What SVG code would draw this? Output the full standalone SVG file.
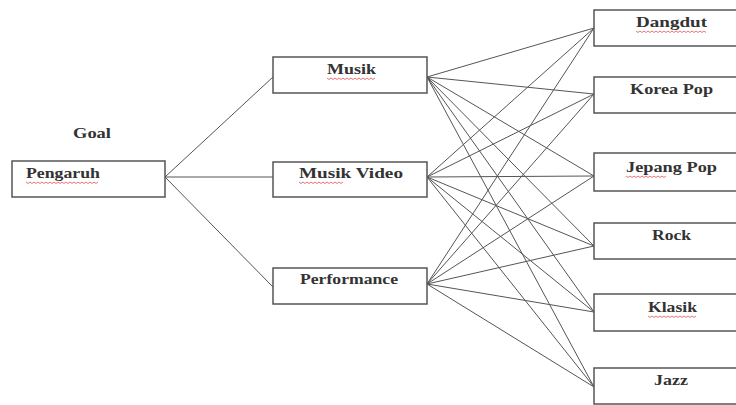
<svg xmlns="http://www.w3.org/2000/svg" width="736" height="405" viewBox="0 0 736 405">
<style>
.box{fill:#fff;stroke:#555;stroke-width:1.5}
.t{font-family:"Liberation Serif","Times New Roman",serif;font-weight:bold;font-size:14px;fill:#333}
.c{fill:none;stroke:#555;stroke-width:1}
.sq{fill:none;stroke:#e05050;stroke-width:0.8}
</style>
<rect width="736" height="405" fill="#fff"/>
<g id="connectors">
<line class="c" x1="165" y1="177" x2="273" y2="77"/>
<line class="c" x1="165" y1="177" x2="273" y2="177"/>
<line class="c" x1="165" y1="177" x2="273" y2="287"/>
<g id="from-musik">
<line class="c" x1="427" y1="77" x2="594" y2="28"/>
<line class="c" x1="427" y1="77" x2="594" y2="94"/>
<line class="c" x1="427" y1="77" x2="594" y2="176"/>
<line class="c" x1="427" y1="77" x2="594" y2="246"/>
<line class="c" x1="427" y1="77" x2="594" y2="312"/>
<line class="c" x1="427" y1="77" x2="594" y2="387"/>
</g>
<g id="from-video">
<line class="c" x1="427" y1="177" x2="594" y2="28"/>
<line class="c" x1="427" y1="177" x2="594" y2="94"/>
<line class="c" x1="427" y1="177" x2="594" y2="176"/>
<line class="c" x1="427" y1="177" x2="594" y2="246"/>
<line class="c" x1="427" y1="177" x2="594" y2="312"/>
<line class="c" x1="427" y1="177" x2="594" y2="387"/>
</g>
<g id="from-performance">
<line class="c" x1="427" y1="284" x2="594" y2="28"/>
<line class="c" x1="427" y1="284" x2="594" y2="94"/>
<line class="c" x1="427" y1="284" x2="594" y2="176"/>
<line class="c" x1="427" y1="284" x2="594" y2="246"/>
<line class="c" x1="427" y1="284" x2="594" y2="312"/>
<line class="c" x1="427" y1="284" x2="594" y2="387"/>
</g>
</g>
<g id="goal-label"><text class="t" x="73" y="138" textLength="38" lengthAdjust="spacingAndGlyphs">Goal</text></g>
<g id="pengaruh">
<rect class="box" x="12" y="161" width="153" height="36"/>
<text class="t" x="26" y="178" textLength="74" lengthAdjust="spacingAndGlyphs">Pengaruh</text>
<path class="sq" d="M26 182 l2 1.5 l2 -1.5 l2 1.5 l2 -1.5 l2 1.5 l2 -1.5 l2 1.5 l2 -1.5 l2 1.5 l2 -1.5 l2 1.5 l2 -1.5 l2 1.5 l2 -1.5 l2 1.5 l2 -1.5 l2 1.5 l2 -1.5 l2 1.5 l2 -1.5 l2 1.5 l2 -1.5 l2 1.5 l2 -1.5 l2 1.5 l2 -1.5 l2 1.5 l2 -1.5 l2 1.5 l2 -1.5 l2 1.5 l2 -1.5 l2 1.5 l2 -1.5 l2 1.5 l2 -1.5"/>
</g>
<g id="musik">
<rect class="box" x="273" y="57" width="154" height="36"/>
<text class="t" x="327" y="74" textLength="49" lengthAdjust="spacingAndGlyphs">Musik</text>
<path class="sq" d="M327 78 l2 1.5 l2 -1.5 l2 1.5 l2 -1.5 l2 1.5 l2 -1.5 l2 1.5 l2 -1.5 l2 1.5 l2 -1.5 l2 1.5 l2 -1.5 l2 1.5 l2 -1.5 l2 1.5 l2 -1.5 l2 1.5 l2 -1.5 l2 1.5 l2 -1.5 l2 1.5 l2 -1.5 l2 1.5 l2 -1.5"/>
</g>
<g id="musik-video">
<rect class="box" x="273" y="162" width="154" height="35"/>
<text class="t" x="299" y="178" textLength="104" lengthAdjust="spacingAndGlyphs">Musik Video</text>
<path class="sq" d="M299 182 l2 1.5 l2 -1.5 l2 1.5 l2 -1.5 l2 1.5 l2 -1.5 l2 1.5 l2 -1.5 l2 1.5 l2 -1.5 l2 1.5 l2 -1.5 l2 1.5 l2 -1.5 l2 1.5 l2 -1.5 l2 1.5 l2 -1.5 l2 1.5 l2 -1.5 l2 1.5 l2 -1.5"/>
</g>
<g id="performance">
<rect class="box" x="273" y="268" width="154" height="36"/>
<text class="t" x="300" y="284" textLength="98" lengthAdjust="spacingAndGlyphs">Performance</text>
</g>
<g id="dangdut">
<rect class="box" x="594" y="10" width="154" height="36"/>
<text class="t" x="636" y="27" textLength="71" lengthAdjust="spacingAndGlyphs">Dangdut</text>
<path class="sq" d="M636 31 l2 1.5 l2 -1.5 l2 1.5 l2 -1.5 l2 1.5 l2 -1.5 l2 1.5 l2 -1.5 l2 1.5 l2 -1.5 l2 1.5 l2 -1.5 l2 1.5 l2 -1.5 l2 1.5 l2 -1.5 l2 1.5 l2 -1.5 l2 1.5 l2 -1.5 l2 1.5 l2 -1.5 l2 1.5 l2 -1.5 l2 1.5 l2 -1.5 l2 1.5 l2 -1.5 l2 1.5 l2 -1.5 l2 1.5 l2 -1.5 l2 1.5 l2 -1.5 l2 1.5"/>
</g>
<g id="korea-pop">
<rect class="box" x="594" y="77" width="154" height="36"/>
<text class="t" x="630" y="94" textLength="83" lengthAdjust="spacingAndGlyphs">Korea Pop</text>
</g>
<g id="jepang-pop">
<rect class="box" x="594" y="153" width="154" height="38"/>
<text class="t" x="626" y="172" textLength="91" lengthAdjust="spacingAndGlyphs">Jepang Pop</text>
<path class="sq" d="M626 176 l2 1.5 l2 -1.5 l2 1.5 l2 -1.5 l2 1.5 l2 -1.5 l2 1.5 l2 -1.5 l2 1.5 l2 -1.5 l2 1.5 l2 -1.5 l2 1.5 l2 -1.5 l2 1.5 l2 -1.5 l2 1.5 l2 -1.5 l2 1.5 l2 -1.5"/>
</g>
<g id="rock">
<rect class="box" x="594" y="223" width="154" height="36"/>
<text class="t" x="652" y="240" textLength="39" lengthAdjust="spacingAndGlyphs">Rock</text>
</g>
<g id="klasik">
<rect class="box" x="594" y="294" width="154" height="37"/>
<text class="t" x="648" y="312" textLength="49" lengthAdjust="spacingAndGlyphs">Klasik</text>
<path class="sq" d="M648 316 l2 1.5 l2 -1.5 l2 1.5 l2 -1.5 l2 1.5 l2 -1.5 l2 1.5 l2 -1.5 l2 1.5 l2 -1.5 l2 1.5 l2 -1.5 l2 1.5 l2 -1.5 l2 1.5 l2 -1.5 l2 1.5 l2 -1.5 l2 1.5 l2 -1.5 l2 1.5 l2 -1.5 l2 1.5 l2 -1.5"/>
</g>
<g id="jazz">
<rect class="box" x="594" y="368" width="154" height="36"/>
<text class="t" x="654" y="385" textLength="34" lengthAdjust="spacingAndGlyphs">Jazz</text>
</g>
</svg>
